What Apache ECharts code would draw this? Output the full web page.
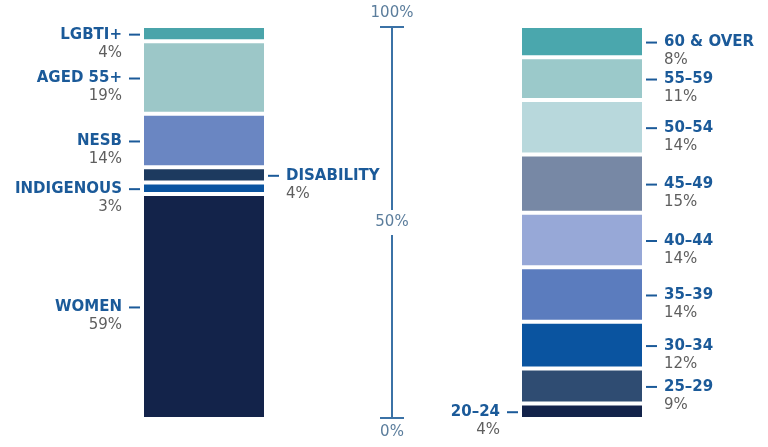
<!DOCTYPE html>
<html>
<head>
<meta charset="utf-8">
<style>
html, body { margin: 0; padding: 0; background: #fff; }
#chart { width: 768px; height: 447px; }
</style>
<script src="https://cdn.jsdelivr.net/npm/echarts@6/dist/echarts.min.js"></script>
</head>
<body>
<div id="chart"></div>
<script>
// data, bottom to top
var leftNames = ['WOMEN', 'INDIGENOUS', 'DISABILITY', 'NESB', 'AGED 55+', 'LGBTI+'];
var leftValues = [59, 3, 4, 14, 19, 4];
var rightNames = ['20–24', '25–29', '30–34', '35–39', '40–44', '45–49', '50–54', '55–59', '60 & OVER'];
var rightValues = [4, 9, 12, 14, 14, 15, 14, 11, 8];
var scaleTicks = [0, 50, 100];
var scaleLabels = ['0%', '50%', '100%'];

// styles
var leftColors = ['#13234a', '#0a54a0', '#1d3a5f', '#6a86c2', '#9cc7c8', '#4aa4aa'];
var rightColors = ['#13234a', '#2f4c72', '#0a54a0', '#5b7cbe', '#97a8d7', '#7788a5', '#b8d8dc', '#9bc9ca', '#4aa7ad'];
var flipped = ['DISABILITY', '20–24'];
var nameColor = '#1b5a99';
var pctColor = '#5e5e5e';
var axisColor = '#3b72a6';
var scaleColor = '#5b7d9c';
var font = 'DejaVu Sans, sans-serif';

function sum(arr) {
  return arr.reduce(function(a, b) { return a + b; }, 0);
}

function label(name, value, side) {
  var onLeft = side === 'left';
  var a = onLeft ? 'right' : 'left';
  var text = onLeft
    ? '{n|' + name + '}{g|}{ln|}\n{p|' + value + '%}{sp|}'
    : '{ln|}{g|}{n|' + name + '}\n{sp|}{p|' + value + '%}';
  return {
    show: true,
    position: side,
    distance: 2,
    offset: [0, 10],
    lineHeight: 18,
    formatter: text,
    rich: {
      n: { fontFamily: font, fontWeight: 'bold', fontSize: 15, color: nameColor, lineHeight: 18, align: a },
      p: { fontFamily: font, fontSize: 15, color: pctColor, lineHeight: 18, align: a },
      g: { width: 7, align: a },
      ln: { width: 11, height: 2, backgroundColor: nameColor, align: a },
      sp: { width: 18, align: a }
    }
  };
}

function barSeries(names, values, colors, idx, defaultSide) {
  return values.map(function(v, i) {
    var side = flipped.indexOf(names[i]) >= 0 ? (defaultSide === 'left' ? 'right' : 'left') : defaultSide;
    return {
      type: 'bar',
      name: names[i],
      xAxisIndex: idx,
      yAxisIndex: idx,
      stack: 's' + idx,
      barWidth: 124,
      data: [v],
      itemStyle: { color: colors[i], borderColor: '#fff', borderWidth: 2 },
      label: label(names[i], v, side),
      silent: true
    };
  });
}

function hiddenX(idx) {
  return { type: 'category', gridIndex: idx, data: [''], show: false };
}

var chart = echarts.init(document.getElementById('chart'), null, { renderer: 'canvas' });
chart.setOption({
  animation: false,
  grid: [
    { left: 143, width: 122, top: 26, height: 393, outerBoundsMode: 'none' },
    { left: 380, width: 24, top: 27, height: 391, outerBoundsMode: 'none' },
    { left: 521, width: 122, top: 26, height: 393, outerBoundsMode: 'none' }
  ],
  xAxis: [hiddenX(0), hiddenX(1), hiddenX(2)],
  yAxis: [
    { type: 'value', gridIndex: 0, min: 0, max: sum(leftValues), show: false },
    {
      type: 'value', gridIndex: 1, min: 0, max: 100, interval: 50, offset: -12,
      axisLine: { show: true, lineStyle: { color: axisColor, width: 2 } },
      axisTick: { show: false },
      splitLine: { show: true, lineStyle: { color: axisColor, width: 2 } },
      axisLabel: {
        margin: 0,
        align: 'center',
        formatter: function(v) {
          var lbl = scaleLabels[scaleTicks.indexOf(v)];
          if (v === 100) return '{e|' + lbl + '}\n{e|}';
          if (v === 0) return '{e|}\n{e|' + lbl + '}';
          return '{m|' + lbl + '}';
        },
        rich: {
          e: { fontFamily: font, fontSize: 15, color: scaleColor, lineHeight: 28 },
          m: { fontFamily: font, fontSize: 15, color: scaleColor, lineHeight: 18, backgroundColor: '#fff', padding: [5, 2] }
        }
      }
    },
    { type: 'value', gridIndex: 2, min: 0, max: sum(rightValues), show: false }
  ],
  series: barSeries(leftNames, leftValues, leftColors, 0, 'left')
    .concat(barSeries(rightNames, rightValues, rightColors, 2, 'right'))
});
</script>
</body>
</html>
